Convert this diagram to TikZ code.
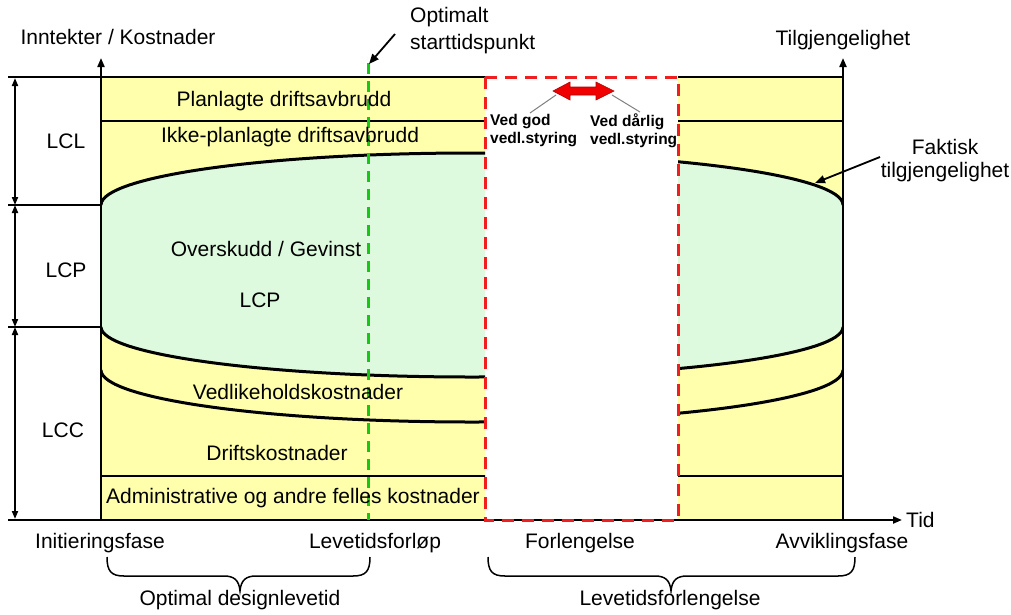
\documentclass[tikz,border=0pt]{standalone}
\usepackage{fontspec}
\setmainfont{Liberation Sans}
\usetikzlibrary{arrows.meta}
\definecolor{panelyellow}{RGB}{255,255,172}
\definecolor{panelgreen}{RGB}{222,250,222}
\definecolor{arrowred}{RGB}{240,0,0}
\definecolor{dashred}{RGB}{240,30,30}
\definecolor{dashgreen}{RGB}{20,200,20}
\begin{document}
\begin{tikzpicture}[x=1pt,y=-1pt,
  lbl/.style={font=\fontsize{21}{24}\selectfont, inner sep=0pt},
  lblL/.style={font=\fontsize{21}{27}\selectfont, inner sep=0pt, align=left},
  lblC/.style={font=\fontsize{21}{23}\selectfont, inner sep=0pt, align=center},
  smalllbl/.style={font=\fontsize{15.5}{18}\selectfont\bfseries, inner sep=0pt, align=left},
  axisline/.style={line width=2pt, -{Triangle[length=9pt,width=7pt]}},
  bandline/.style={line width=2.2pt},
  curveline/.style={line width=3pt},
  dimarrow/.style={line width=1.8pt, {Triangle[length=8pt,width=6pt]}-{Triangle[length=8pt,width=6pt]}},
  callout/.style={line width=1.8pt, -{Triangle[length=10pt,width=8pt]}},
  leader/.style={gray, line width=1pt},
  bracestyle/.style={line width=1.5pt}
  ]
\useasboundingbox (0,0) rectangle (1011,614);

% panels
\begin{scope}
\clip (101,77) rectangle (485,520) (678,77) rectangle (843,520);
\fill[panelyellow] (101,77) rectangle (843,520);
\fill[panelgreen] (101,205) arc[start angle=180,end angle=360,x radius=371,y radius=52]
  -- (843,327) arc[start angle=0,end angle=180,x radius=371,y radius=50] -- cycle;
\draw[curveline] (101,205) arc[start angle=180,end angle=360,x radius=371,y radius=52];
\draw[curveline] (101,327) arc[start angle=180,end angle=0,x radius=371,y radius=50];
\draw[curveline] (101,370) arc[start angle=180,end angle=0,x radius=371,y radius=52];
\draw[bandline] (101,121) -- (843,121);
\draw[bandline] (101,476) -- (843,476);
\end{scope}

% coordinates
\coordinate (tl) at (8,77);
\coordinate (tm) at (485,77);
\coordinate (tr1) at (678,77);
\coordinate (tr2) at (843,77);
\coordinate (a1) at (8,205);
\coordinate (a1e) at (101,205);
\coordinate (a2) at (8,327);
\coordinate (a2e) at (101,327);
\coordinate (o) at (101,520);
\coordinate (otop) at (101,58);
\coordinate (r) at (843,520);
\coordinate (rtop) at (843,58);
\coordinate (xs) at (8,520);
\coordinate (xe) at (902,520);

\draw[bandline] (tl) -- (tm);
\draw[bandline] (tr1) -- (tr2);
\draw[bandline] (a1) -- (a1e);
\draw[bandline] (a2) -- (a2e);

\coordinate (d0) at (15,78);
\coordinate (d1) at (15,205);
\coordinate (d2) at (15,327);
\coordinate (d3) at (15,519);
\draw[dimarrow] (d0) -- (d1);
\draw[dimarrow] (d1) -- (d2);
\draw[dimarrow] (d2) -- (d3);

% axes
\draw[axisline] (o) -- (otop);
\draw[axisline] (r) -- (rtop);
\draw[axisline] (xs) -- (xe);

% dashed lines
\coordinate (g0) at (368,63);
\coordinate (g1) at (368,520);
\draw[dashgreen, line width=3pt, dash pattern=on 11pt off 7pt] (g0) -- (g1);
\coordinate (rb1) at (485,77);
\coordinate (rb2) at (678,520);
\draw[dashred, line width=3pt, dash pattern=on 12pt off 8pt] (rb1) rectangle (rb2);

% red double arrow
\filldraw[fill=arrowred, draw=red!70!black, line width=0.6pt]
  (553,91) -- (570,82) -- (570,87) -- (596,87) -- (596,82) -- (614,91)
  -- (596,100) -- (596,95) -- (570,95) -- (570,100) -- cycle;
\coordinate (la) at (556,95);
\coordinate (ra) at (612,95);

% labels
\node[lbl] (ylab) at (118,37) {Inntekter / Kostnader};
\node[lbl] (rlab) at (843,40) {Tilgjengelighet};
\node[lblL, anchor=west] (opt) at (410,31) {Optimalt\\starttidspunkt};
\coordinate (optstart) at (395,34);
\coordinate (optend) at (369,64);
\draw[callout] (optstart) -- (optend);

\node[smalllbl, anchor=west] (good) at (490,131) {Ved god\\vedl.styring};
\node[smalllbl, anchor=west] (bad) at (590,131) {Ved dårlig\\vedl.styring};
\coordinate (goodtip) at (530,113);
\coordinate (badtip) at (640,112);
\draw[leader] (goodtip) -- (la);
\draw[leader] (badtip) -- (ra);

\node[lblC] (fakt) at (945,161) {Faktisk\\tilgjengelighet};
\coordinate (faktstart) at (880,157);
\coordinate (faktend) at (815,183);
\draw[callout] (faktstart) -- (faktend);

\node[lbl] (lcl) at (66,141) {LCL};
\node[lbl] (lcp) at (66,270) {LCP};
\node[lbl] (lcc) at (63,430) {LCC};

\node[lbl] (plan) at (284,101) {Planlagte driftsavbrudd};
\node[lbl] (ikke) at (290,137) {Ikke-planlagte driftsavbrudd};
\node[lbl] (over) at (266,249) {Overskudd / Gevinst};
\node[lbl] (lcpin) at (260,300) {LCP};
\node[lbl] (vedl) at (298,392) {Vedlikeholdskostnader};
\node[lbl] (drift) at (277,453) {Driftskostnader};
\node[lbl] (admin) at (293,498) {Administrative og andre felles kostnader};

\node[lbl, anchor=west] (tid) at (906,520) {Tid};
\node[lbl] (init) at (100,543) {Initieringsfase};
\node[lbl] (levf) at (375,543) {Levetidsforløp};
\node[lbl] (forl) at (580,543) {Forlengelse};
\node[lbl] (avvk) at (842,543) {Avviklingsfase};

% braces
\draw[bracestyle] (107,557) .. controls (107,571) and (111,576) .. (124,576) -- (224,576)
  .. controls (234,576) and (239,580) .. (240,591) .. controls (241,580) and (246,576) .. (256,576)
  -- (353,576) .. controls (366,576) and (370,571) .. (370,557);
\draw[bracestyle] (488,557) .. controls (488,571) and (492,576) .. (505,576) -- (655,576)
  .. controls (665,576) and (670,580) .. (671,591) .. controls (672,580) and (677,576) .. (687,576)
  -- (838,576) .. controls (851,576) and (855,571) .. (855,557);
\node[lbl] (optd) at (240,600) {Optimal designlevetid};
\node[lbl] (levfl) at (670,600) {Levetidsforlengelse};
\end{tikzpicture}
\end{document}
